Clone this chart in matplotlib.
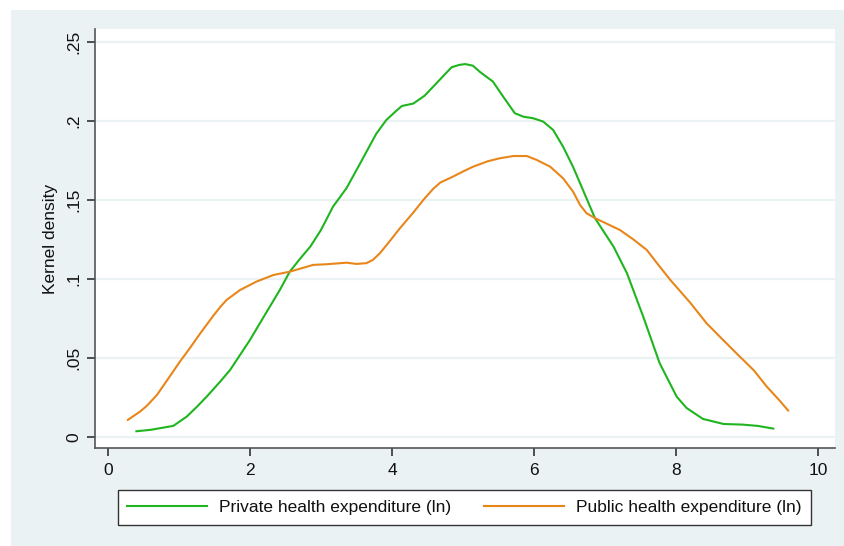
import matplotlib
matplotlib.use("Agg")
import matplotlib.pyplot as plt
from matplotlib.patches import Rectangle

plt.rcParams['font.family'] = ['Liberation Sans', 'DejaVu Sans']

# Kernel density estimates (log health expenditure)
private_x = [0.4, 0.6, 0.92, 1.11, 1.25, 1.39, 1.58, 1.72, 2.0, 2.14, 2.42, 2.56, 2.70,
             2.85, 3.0, 3.17, 3.36, 3.55, 3.78, 3.92, 4.05, 4.14, 4.3, 4.46, 4.65, 4.84,
             4.95, 5.03, 5.14, 5.24, 5.42, 5.58, 5.73, 5.85, 5.99, 6.13, 6.27, 6.41, 6.55,
             6.69, 6.86, 7.12, 7.31, 7.54, 7.77, 8.01, 8.15, 8.38, 8.67, 8.94, 9.15, 9.37]
private_y = [0.0036, 0.0045, 0.007, 0.0129, 0.019, 0.0255, 0.035, 0.0424, 0.0614, 0.072,
             0.093, 0.1046, 0.1125, 0.1205, 0.131, 0.1458, 0.1575, 0.173, 0.192, 0.2006,
             0.206, 0.2095, 0.211, 0.216, 0.225, 0.234, 0.2355, 0.236, 0.235, 0.231, 0.225,
             0.2145, 0.2049, 0.2027, 0.2017, 0.1996, 0.1943, 0.1837, 0.171, 0.1563, 0.1384,
             0.1205, 0.1036, 0.076, 0.0467, 0.0255, 0.0183, 0.0114, 0.0082, 0.0078, 0.007,
             0.0053]

public_x = [0.28, 0.45, 0.545, 0.69, 0.85, 1.01, 1.15, 1.30, 1.48, 1.58, 1.67, 1.86, 2.09,
            2.33, 2.56, 2.89, 3.08, 3.36, 3.5, 3.64, 3.73, 3.83, 3.97, 4.11, 4.3, 4.46,
            4.58, 4.68, 4.86, 5.0, 5.14, 5.35, 5.52, 5.71, 5.9, 6.04, 6.23, 6.41, 6.55,
            6.65, 6.74, 6.86, 7.21, 7.4, 7.59, 7.75, 7.92, 8.2, 8.43, 8.65, 8.9, 9.1, 9.28,
            9.45, 9.58]
public_y = [0.0108, 0.016, 0.0196, 0.0266, 0.037, 0.0475, 0.056, 0.0656, 0.0765, 0.0822,
            0.0867, 0.093, 0.0983, 0.1025, 0.1046, 0.1089, 0.1093, 0.1103, 0.1095, 0.11,
            0.112, 0.1163, 0.124, 0.132, 0.142, 0.151, 0.157, 0.161, 0.1648, 0.168, 0.171,
            0.1745, 0.1764, 0.1778, 0.1778, 0.1753, 0.171, 0.1637, 0.1553, 0.1468, 0.1416,
            0.1385, 0.131, 0.125, 0.1183, 0.109, 0.0994, 0.085, 0.072, 0.062, 0.0508, 0.042,
            0.0318, 0.0235, 0.0167]

series_labels = ["Private health expenditure (ln)", "Public health expenditure (ln)"]
x_ticks = [0, 2, 4, 6, 8, 10]
y_ticks = [0, 0.05, 0.1, 0.15, 0.2, 0.25]
y_tick_labels = ["0", ".05", ".1", ".15", ".2", ".25"]

W, H = 844, 546
fig = plt.figure(figsize=(W / 100, H / 100), dpi=100)
fig.patch.set_facecolor("white")
bg = "#EAF2F3"
fig.patches.append(Rectangle((11 / W, 0), 1 - 11 / W, 1 - 10 / H,
                             transform=fig.transFigure, facecolor=bg,
                             edgecolor="none", zorder=-5))

ax = fig.add_axes([95 / W, (H - 448) / H, 740 / W, 419 / H])
ax.set_zorder(1)
ax.set_facecolor("white")

green = "#1FB51F"
orange = "#E8861A"
l1, = ax.plot(private_x, private_y, color=green, lw=1.5, solid_joinstyle="round")
l2, = ax.plot(public_x, public_y, color=orange, lw=1.5, solid_joinstyle="round")

ax.set_xlim(-0.183, 10.24)
ax.set_ylim(-0.0070, 0.2582)
ax.set_xticks(x_ticks)
ax.set_yticks(y_ticks)
ax.set_yticklabels(y_tick_labels, rotation=90, va="center")
ax.yaxis.grid(True, color=bg, lw=1.6)
ax.set_axisbelow(True)

for s in ("top", "right"):
    ax.spines[s].set_visible(False)
for s in ("left", "bottom"):
    ax.spines[s].set_color("#555555")
    ax.spines[s].set_linewidth(1.2)

ax.tick_params(axis="both", length=6, width=1.2, color="#333333",
               labelsize=12.5, labelcolor="#111111")
ax.tick_params(axis="x", pad=5)
ax.tick_params(axis="y", pad=4)
ax.set_ylabel("Kernel density", fontsize=12.5, color="#111111", labelpad=6)

leg = fig.legend([l1, l2], series_labels, loc="center",
                 bbox_to_anchor=((119 + 810) / 2 / W, 1 - 507.5 / H),
                 ncol=2, fontsize=12.5, frameon=True, fancybox=False,
                 framealpha=1, facecolor="white",
                 handlelength=4.6, columnspacing=1.9, handletextpad=0.7,
                 borderpad=0.55, borderaxespad=0)
leg.get_frame().set_edgecolor("#333333")
leg.get_frame().set_linewidth(1.0)
for t in leg.get_texts():
    t.set_color("#111111")

fig.savefig("out.png", dpi=100, facecolor=fig.get_facecolor())
